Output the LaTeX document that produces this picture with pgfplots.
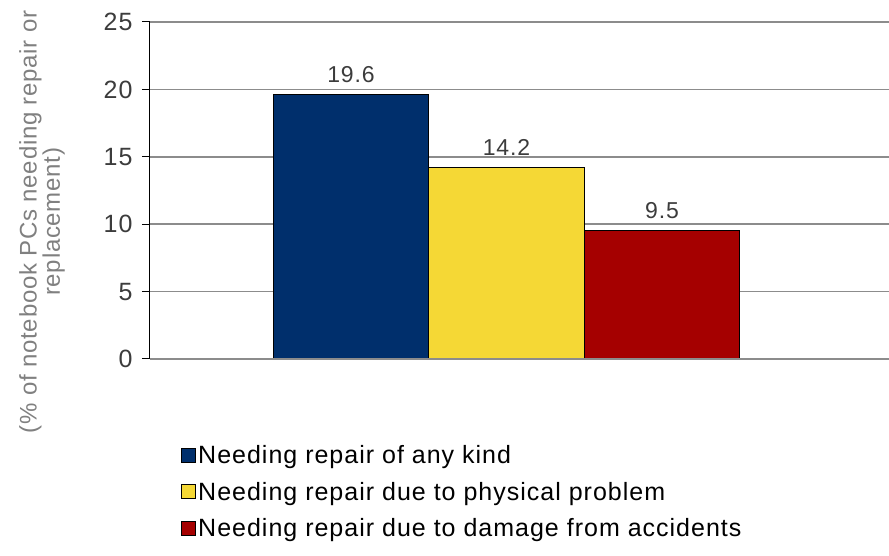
\documentclass[border=0pt]{standalone}
\usepackage{fontspec}
\setmainfont{Liberation Sans}
\usepackage{pgfplots}
\pgfplotsset{compat=1.18}
\definecolor{barblue}{RGB}{0,47,108}
\definecolor{baryellow}{RGB}{245,216,53}
\definecolor{barred}{RGB}{165,0,0}
\definecolor{gridgray}{RGB}{140,140,140}
\definecolor{ticktext}{RGB}{60,60,60}
\newcommand{\spaced}[1]{\fontsize{#1}{#1}\selectfont\addfontfeature{LetterSpace=4}}
\begin{document}
\begin{tikzpicture}
\begin{axis}[
    scale only axis,
    width=739pt, height=337pt,
    ybar, bar width=1, bar shift=0pt,
    xmin=-1.293, xmax=3.46,
    ymin=0, ymax=25,
    ytick={0,5,...,25},
    xtick=\empty,
    axis x line=none,
    axis y line*=left,
    y axis line style={black, line width=1pt, -},
    ymajorgrids,
    grid style={gridgray, line width=1.6pt},
    major tick length=8pt,
    ytick style={black, line width=1pt},
    tick align=outside,
    y tick label style={font=\spaced{25}, text=ticktext, xshift=-6pt},
    /pgf/number format/assume math mode=true,
    nodes near coords,
    nodes near coords style={font=\spaced{23}, text=ticktext, yshift=8pt},
    every node near coord/.append style={/pgf/number format/.cd, fixed, precision=1, fixed zerofill},
    legend style={at={(axis description cs:0.042,-0.25)}, anchor=north west,
        draw=none, fill=none, font=\spaced{25},
        row sep=13pt, inner sep=0pt, cells={anchor=west},
        /tikz/every even column/.append style={column sep=2pt}},
    legend image code/.code={\draw[#1] (0pt,-7pt) rectangle (14pt,7pt);},
    clip=false,
]
\addplot[fill=barblue, draw=black, line width=1pt] coordinates {(0,19.6)};
\addplot[fill=baryellow, draw=black, line width=1pt] coordinates {(1,14.2)};
\addplot[fill=barred, draw=black, line width=1pt] coordinates {(2,9.5)};
\legend{Needing repair of any kind, Needing repair due to physical problem, Needing repair due to damage from accidents}
\draw[gridgray, line width=1.6pt] (axis cs:-1.293,0) -- (axis cs:3.46,0);
\node[rotate=90, align=center, text=gray, font=\fontsize{24}{21}\selectfont\addfontfeature{LetterSpace=3}]
    at (axis description cs:-0.146,0.407) {(\% of notebook PCs needing repair or\\replacement)};
\end{axis}
\pgfresetboundingbox
\path (current axis.south west) ++(-150pt,-197pt) rectangle ++(889pt,556pt);
\end{tikzpicture}
\end{document}
